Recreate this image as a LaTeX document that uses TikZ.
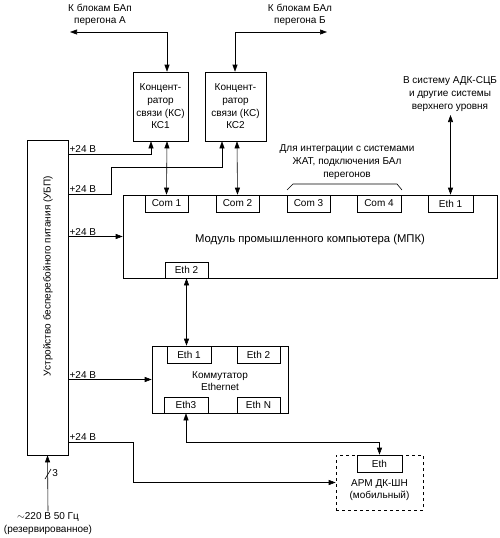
\documentclass[tikz,border=0pt]{standalone}
\usepackage{fontspec}
\setmainfont{Liberation Sans}
\usetikzlibrary{arrows.meta, positioning}

\begin{document}
\begin{tikzpicture}[x=1pt,y=-1pt,line width=0.6pt,
  every node/.style={font=\fontsize{10}{12.6}\selectfont, inner sep=1pt},
  box/.style={draw, rectangle, inner sep=0pt, align=center},
  port/.style={draw, fill=white, inner sep=0pt, minimum height=17pt},
  note/.style={align=center},
  arr/.style={-{Triangle[length=7pt,width=5pt]}},
  dbl/.style={{Triangle[length=7pt,width=5pt]}-{Triangle[length=7pt,width=5pt]}}]
\useasboundingbox (0,0) rectangle (500,538);
\node[box, minimum width=41pt, minimum height=315pt] (ubp) at (47.5,297.5) {};
\node[rotate=90] (ubptxt) at (48,276) {Устройство бесперебойного питания (УБП)};
\node[box, minimum width=55pt, minimum height=69pt] (ks1) at (160.5,106.5) {Концент-\\ратор\\связи (КС)\\КС1};
\node[box, minimum width=61pt, minimum height=69pt] (ks2) at (235.5,106.5) {Концент-\\ратор\\связи (КС)\\КС2};
\node[box, minimum width=374pt, minimum height=83pt] (mpk) at (310,236.5) {};
\node[font=\fontsize{11.3}{13}\selectfont] (mpktxt) at (310,240) {Модуль промышленного компьютера (МПК)};
\node[port, minimum width=43pt] (com1) at (166.5,203.5) {Com 1};
\node[port, minimum width=43pt] (com2) at (237.5,203.5) {Com 2};
\node[port, minimum width=43pt] (com3) at (308.5,203.5) {Com 3};
\node[port, minimum width=44pt] (com4) at (379,203.5) {Com 4};
\node[port, minimum width=45pt] (eth1) at (450.5,203.5) {Eth 1};
\node[port, minimum width=43pt, minimum height=16pt] (eth2) at (186.5,270) {Eth 2};
\node[box, minimum width=136pt, minimum height=67pt] (sw) at (220,379.5) {};
\node[note] (swtxt) at (220,381) {Коммутатор\\Ethernet};
\node[port, minimum width=44pt] (swe1) at (189,354.5) {Eth 1};
\node[port, minimum width=43pt] (swe2) at (258.5,354.5) {Eth 2};
\node[port, minimum width=44pt, minimum height=16pt] (swe3) at (186,405) {Eth3};
\node[port, minimum width=43pt, minimum height=16pt] (swen) at (258.5,405) {Eth N};
\node[box, dashed, minimum width=87pt, minimum height=55pt] (arm) at (379.5,482.5) {};
\node[port, minimum width=45pt] (armeth) at (379.5,463.5) {Eth};
\node[note] (armtxt) at (379.5,490) {АРМ ДК-ШН\\(мобильный)};
\node[note] (txta) at (100,15) {К блокам БАп\\перегона А};
\node[note] (txtb) at (300,15) {К блокам БАл\\перегона Б};
\node[note] (txtup) at (450,94) {В систему АДК-СЦБ\\и другие системы\\верхнего уровня};
\node[note] (txtjat) at (347,162) {Для интеграции с системами\\ЖАТ, подключения БАл\\перегонов};
\node[note] (inp) at (48,523.5) {$\sim$220 В 50 Гц\\(резервированное)};
\coordinate (enda) at (70,32);
\coordinate (endb) at (327,32);
\coordinate (endup) at (450.5,115);
\coordinate (p2) at (111,194);
\coordinate (p2b) at (111,167);
\coordinate (p5) at (133,442);
\coordinate (lan) at (379.5,442);
\draw[dbl] (enda) -| ([xshift=6.5pt]ks1.north);
\draw[dbl] (endb) -| ([xshift=-0.5pt]ks2.north);
\draw[dbl] ([xshift=6.5pt]ks1.south) -- (com1.north);
\draw[dbl] ([xshift=1.5pt]ks2.south) -- (com2.north);
\draw[dbl] (endup) -- (eth1.north);
\draw[dbl] (eth2.south) -- (eth2.south |- swe1.north);
\draw[dbl] (swe3.south) |- (lan) -- (armeth.north);
\draw (287,190) -- (293,184) -- (397,184) -- (402,190);
\draw[arr] (ubp.east |- 0,154) node[above right] {+24 В} -| ([xshift=-9.5pt]ks1.south);
\draw[arr] (ubp.east |- p2) node[above right] {+24 В} -- (p2) -- (p2b) -| ([xshift=-13.5pt]ks2.south);
\draw[arr] (ubp.east |- mpk.west) node[above right] {+24 В} -- (mpk.west);
\draw[arr] (ubp.east |- sw.west) node[above right] {+24 В} -- (sw.west);
\draw[arr] (ubp.east |- p5) node[above right] {+24 В} -- (p5) |- (arm.west);
\draw[arr] (inp.north) -- (ubp.south);
\draw (45,479) -- (51,469) node[right, yshift=-4pt] {3};
\end{tikzpicture}
\end{document}
